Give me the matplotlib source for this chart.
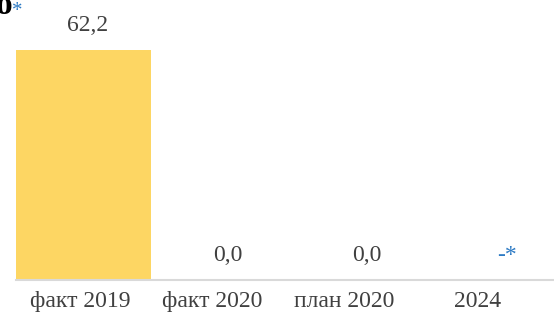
import matplotlib
matplotlib.use("Agg")
import matplotlib.pyplot as plt

categories = ["факт 2019", "факт 2020", "план 2020", "2024"]
values = [62.2, 0.0, 0.0, 0.0]
value_labels = ["62,2", "0,0", "0,0", "-*"]
label_colors = ["#404040", "#404040", "#404040", "#2E7BC4"]

plt.rcParams["font.family"] = ["Liberation Serif", "DejaVu Serif"]

W, H = 554, 323
fig = plt.figure(figsize=(W / 100, H / 100), dpi=100)
ax = fig.add_axes([16 / W, 1 - 280 / H, 538 / W, 280 / H])

x = list(range(len(categories)))
ax.bar(x, values, width=1.01, color="#FDD663", zorder=2)
ax.set_xlim(-0.5, 3.5)
ax.set_ylim(0, 62.2 * 280 / 230)

# data labels (Excel places them slightly right of centre)
lab_dx = [4, 10, 15, 20]
for i, (v, t, c) in enumerate(zip(values, value_labels, label_colors)):
    ax.annotate(t, (i, v), xytext=(lab_dx[i] * 0.72, 10), textcoords="offset points",
                ha="center", va="bottom", fontsize=17, color=c)

ax.set_xticks(x)
ax.set_xticklabels([])
tick_dx = [-3, -6, -8, -9]
for i, name in enumerate(categories):
    ax.annotate(name, (i, 0), xytext=(tick_dx[i] * 0.72, -8), textcoords="offset points",
                xycoords=("data", "axes fraction"),
                ha="center", va="top", fontsize=17, color="#404040")
ax.tick_params(length=0)
ax.set_yticks([])
for s in ["top", "left", "right"]:
    ax.spines[s].set_visible(False)
ax.spines["bottom"].set_color("#D9D9D9")
ax.spines["bottom"].set_linewidth(1.5)

# cut-off title fragment in the top-left corner
fig.text(12 / W, 1 - 14 / H, "о", ha="right", va="baseline", fontsize=24,
         fontweight="bold", color="black")
fig.text(12 / W, 1 - 16 / H, "*", ha="left", va="baseline", fontsize=15,
         color="#2E7BC4")

fig.savefig("out.png", dpi=100)
